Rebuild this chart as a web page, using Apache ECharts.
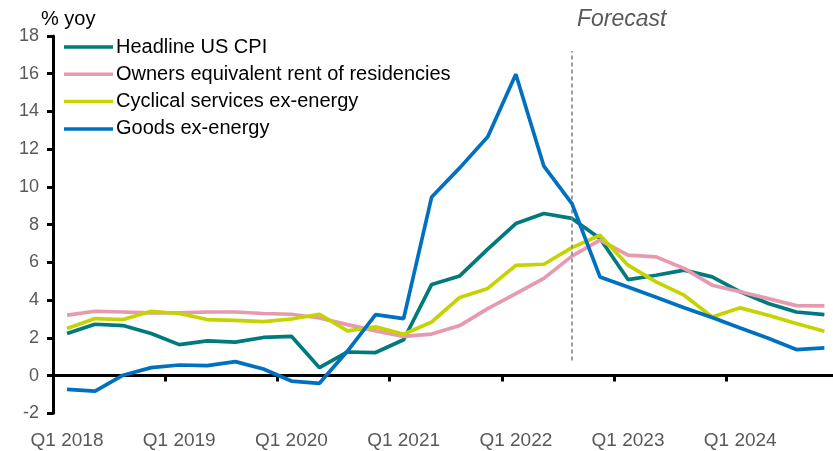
<!DOCTYPE html>
<html>
<head>
<meta charset="utf-8">
<script src="https://cdn.jsdelivr.net/npm/echarts@6/dist/echarts.min.js"></script>
<style>html,body{margin:0;padding:0;background:#fff;}#c{width:833px;height:451px;}</style>
</head>
<body>
<div id="c"></div>
<script>
var categories = [];
var years = [2018, 2019, 2020, 2021, 2022, 2023, 2024];
years.forEach(function (y) { for (var q = 1; q <= 4; q++) categories.push('Q' + q + ' ' + y); });

var headline = [2.23, 2.72, 2.65, 2.23, 1.64, 1.84, 1.77, 2.02, 2.08, 0.42, 1.25, 1.22, 1.9, 4.83, 5.28, 6.7, 8.06, 8.59, 8.33, 7.27, 5.09, 5.32, 5.59, 5.23, 4.44, 3.82, 3.37, 3.23];
var oer = [3.2, 3.41, 3.37, 3.32, 3.32, 3.37, 3.37, 3.29, 3.25, 3.05, 2.7, 2.37, 2.08, 2.2, 2.65, 3.55, 4.35, 5.15, 6.33, 7.18, 6.38, 6.29, 5.68, 4.79, 4.44, 4.08, 3.71, 3.69];
var cyclical = [2.49, 3.02, 2.97, 3.41, 3.29, 2.97, 2.93, 2.86, 3.0, 3.25, 2.37, 2.58, 2.19, 2.84, 4.14, 4.62, 5.84, 5.9, 6.78, 7.44, 5.85, 4.97, 4.26, 3.11, 3.59, 3.2, 2.76, 2.35];
var goods = [-0.73, -0.82, 0.02, 0.42, 0.56, 0.53, 0.74, 0.35, -0.29, -0.41, 1.3, 3.23, 3.02, 9.47, 11.01, 12.66, 15.97, 11.1, 9.12, 5.23, 4.69, 4.15, 3.6, 3.08, 2.52, 1.98, 1.38, 1.47];
var seriesNames = ['Headline US CPI', 'Owners equivalent rent of residencies', 'Cyclical services ex-energy', 'Goods ex-energy'];
var colors = ['#007A7C', '#E59AAE', '#C5D400', '#0070C0'];
var forecastStart = 'Q3 2022';
var forecastRange = [0.8, 17.2];

var FONT = "'Liberation Sans', Arial, sans-serif";
var chart = echarts.init(document.getElementById('c'));
var dataSets = [headline, oer, cyclical, goods];
var series = dataSets.map(function (d, i) {
  var s = {
    name: seriesNames[i], type: 'line', data: d, symbol: 'none', smooth: false,
    xAxisIndex: 0, yAxisIndex: 0,
    lineStyle: { width: 3.7, color: colors[i] }, itemStyle: { color: colors[i] }, z: 2 + i
  };
  if (i === 3) {
    s.markLine = {
      silent: true, symbol: 'none', label: { show: false },
      lineStyle: { type: [4, 3], color: '#7F7F7F', width: 1.5 },
      data: [[{ coord: [forecastStart, forecastRange[0]] }, { coord: [forecastStart, forecastRange[1]] }]]
    };
  }
  return s;
});

chart.setOption({
  animation: false,
  color: colors,
  grid: { left: 53, top: 36, width: 785.4, height: 377.3, containLabel: false, outerBoundsMode: 'none' },
  legend: {
    orient: 'vertical', left: 64, top: 37, padding: 0, itemWidth: 49, itemHeight: 3.5, itemGap: 7.3,
    icon: 'rect',
    textStyle: { fontFamily: FONT, fontSize: 20, color: '#000', lineHeight: 20, padding: [0, 0, 0, -2] },
    data: seriesNames
  },
  xAxis: [{
    type: 'category', data: categories, boundaryGap: true,
    axisLine: { onZero: true, lineStyle: { color: '#000', width: 3 } },
    axisTick: { show: true, length: 6, lineStyle: { color: '#000', width: 3 }, interval: function (idx) { return idx % 4 === 0; } },
    axisLabel: { show: false },
    splitLine: { show: false }
  }, {
    type: 'category', data: categories, boundaryGap: true, position: 'bottom',
    axisLine: { show: false, onZero: false },
    axisTick: { show: false },
    axisLabel: { interval: 3, margin: 18, fontFamily: FONT, fontSize: 19, color: '#595959' },
    splitLine: { show: false }
  }],
  yAxis: {
    type: 'value', min: -2, max: 18, interval: 2,
    axisLine: { show: true, lineStyle: { color: '#000', width: 3 } },
    axisTick: { show: true, length: 6, lineStyle: { color: '#000', width: 3 } },
    axisLabel: { margin: 14, fontFamily: FONT, fontSize: 18, color: '#595959' },
    splitLine: { show: false }
  },
  graphic: [
    { type: 'text', left: 41, top: 9, style: { text: '% yoy', font: '20px ' + FONT, fill: '#000' } },
    { type: 'text', left: 577, top: 8, style: { text: 'Forecast', font: 'italic 23px ' + FONT, fill: '#595959' } }
  ],
  series: series
});
</script>
</body>
</html>
